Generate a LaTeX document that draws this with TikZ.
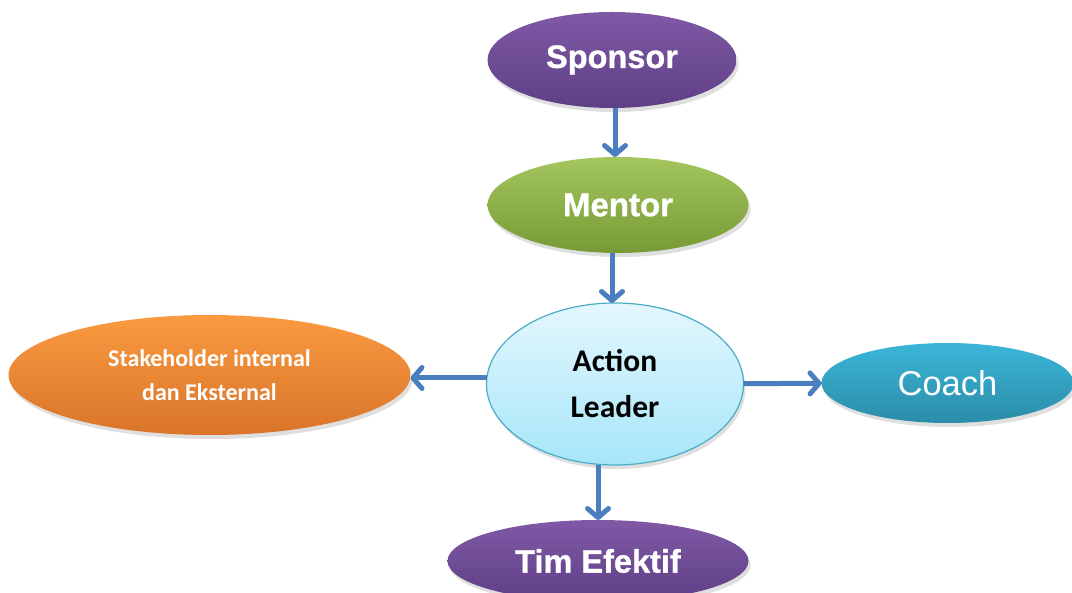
\documentclass[tikz,border=0pt]{standalone}
\usepackage{fontspec}
\usetikzlibrary{arrows.meta,positioning,shapes.geometric,shadows}
\newfontfamily\arialfont[BoldFeatures={FakeBold=1}]{Liberation Sans}
\newfontfamily\calfont{Carlito}
\definecolor{arrowblue}{HTML}{4A7EBF}
\definecolor{purpletop}{HTML}{8059A6}
\definecolor{purplebot}{HTML}{5E3F86}
\definecolor{greentop}{HTML}{A3C65E}
\definecolor{greenbot}{HTML}{789A36}
\definecolor{cyantop}{HTML}{3BB6D8}
\definecolor{cyanbot}{HTML}{2B8CA8}
\definecolor{orangetop}{HTML}{FA9A40}
\definecolor{orangebot}{HTML}{D9742A}
\definecolor{leadtop}{HTML}{E4F7FD}
\definecolor{leadbot}{HTML}{A6E6F9}
\definecolor{leadline}{HTML}{4BACC6}

\begin{document}
\begin{tikzpicture}[x=1pt,y=-1pt,
  ->,>={Straight Barb[length=9pt,width=21pt,round]},line width=5pt,
  main node/.style={ellipse,inner sep=0pt,outer sep=0pt,text=white,
    drop shadow={opacity=0.25,shadow xshift=2pt,shadow yshift=-4pt}},
  purple node/.style={main node,top color=purpletop,bottom color=purplebot,
    font=\arialfont\bfseries\fontsize{32.5}{38}\selectfont},
  green node/.style={main node,top color=greentop,bottom color=greenbot,
    font=\arialfont\bfseries\fontsize{33}{38}\selectfont},
  cyan node/.style={main node,top color=cyantop,bottom color=cyanbot,
    font=\arialfont\fontsize{34.5}{40}\selectfont},
  orange node/.style={main node,top color=orangetop,bottom color=orangebot,
    align=center,font=\calfont\bfseries\fontsize{24}{34}\selectfont},
  leader node/.style={main node,draw=leadline,line width=1.2pt,text=black,
    top color=leadtop,bottom color=leadbot,align=center,
    font=\calfont\bfseries\fontsize{31.5}{46}\selectfont}]

  \useasboundingbox (0,0) rectangle (1072,593);

  \node[leader node,minimum width=257pt,minimum height=162pt] (3) at (615,384) {Action\\Leader};
  \node[green node,minimum width=261pt,minimum height=96pt] (2) [above=50pt of 3,xshift=3pt] {Mentor};
  \node[purple node,minimum width=249pt,minimum height=96pt] (1) [above=49pt of 2,xshift=-6pt] {Sponsor};
  \node[orange node,minimum width=402pt,minimum height=120pt] (4) [left=76pt of 3,yshift=9pt] {Stakeholder internal\\dan Eksternal};
  \node[cyan node,minimum width=252pt,minimum height=80pt] (6) [right=78pt of 3,yshift=1pt] {Coach};
  \node[purple node,minimum width=301pt,minimum height=82pt] (5) [below=55pt of 3,xshift=-17pt] {Tim Efektif};

  \path[every edge/.style={draw=arrowblue}]
    (1.south -| 615,0) edge (2.north -| 615,0)
    (2.south -| 612,0) edge (3.north -| 612,0)
    (3.west |- 0,378) edge (4.east |- 0,378)
    (3) edge (6)
    (3.south -| 5.north) edge (5)
;
\end{tikzpicture}
\end{document}
